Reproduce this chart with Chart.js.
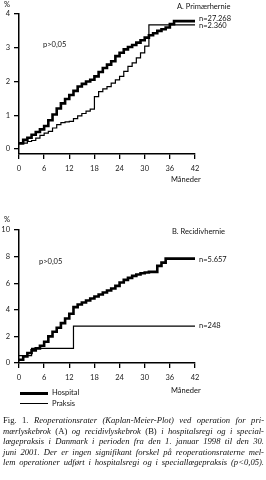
<!DOCTYPE html>
<html>
<head>
<meta charset="utf-8">
<script src="https://cdn.jsdelivr.net/npm/chart.js@4"></script>
<style>
  body { margin: 0; background: #fff; width: 266px; height: 480px; position: relative; overflow: hidden; font-family: Lato, "DejaVu Sans", sans-serif; color: #111; }
  .c { position: absolute; left: 0; }
  .t { position: absolute; font-size: 7.5px; white-space: nowrap; line-height: 1; }
  .leg { position: absolute; left: 20px; width: 28px; background: #000; }
  .cap { position: absolute; left: 3px; width: 261px; font-family: "Liberation Serif", serif; font-size: 8.6px; line-height: 10.5px; }
  .cap div { text-align: justify; text-align-last: justify; }
  .cap i { font-style: italic; }
</style>
</head>
<body>
<div class="c" style="top:0;width:266px;height:185px"><canvas id="a"></canvas></div>
<div class="c" style="top:215px;width:266px;height:195px"><canvas id="b"></canvas></div>

<div class="t" style="left:4px;top:1px">%</div>
<div class="t" style="left:177px;top:3px">A. Primærhernie</div>
<div class="t" style="left:43px;top:41px">p&gt;0,05</div>
<div class="t" style="left:199px;top:15px">n=27.268</div>
<div class="t" style="left:199px;top:22px">n=2.360</div>
<div class="t" style="left:171px;top:176px">Måneder</div>

<div class="t" style="left:4px;top:216px">%</div>
<div class="t" style="left:172px;top:228px">B. Recidivhernie</div>
<div class="t" style="left:39px;top:258px">p&gt;0,05</div>
<div class="t" style="left:199px;top:256px">n=5.657</div>
<div class="t" style="left:199px;top:322px">n=248</div>
<div class="t" style="left:171px;top:387px">Måneder</div>

<div class="leg" style="top:392px;height:2.5px"></div>
<div class="t" style="left:52px;top:389px">Hospital</div>
<div class="leg" style="top:403px;height:1.2px"></div>
<div class="t" style="left:52px;top:400px">Praksis</div>

<div class="cap" style="top:415px">
  <div>Fig. 1. <i>Reoperationsrater (Kaplan-Meier-Plot) ved operation for pri-</i></div>
  <div><i>mærlyskebrok</i> (A) <i>og recidivlyskebrok</i> (B) <i>i hospitalsregi og i special-</i></div>
  <div><i>lægepraksis i Danmark i perioden fra den 1. januar 1998 til den 30.</i></div>
  <div><i>juni 2001. Der er ingen signifikant forskel på reoperationsraterne mel-</i></div>
  <div><i>lem operationer udført i hospitalsregi og i speciallægepraksis (p&lt;0,05).</i></div>
</div>

<script>
// months 0..42
const months = [0,1,2,3,4,5,6,7,8,9,10,11,12,13,14,15,16,17,18,19,20,21,22,23,24,25,26,27,28,29,30,31,32,33,34,35,36,37,38,39,40,41,42];

// A. Primærhernie (%)
const hospitalA = [0.17,0.27,0.33,0.42,0.5,0.58,0.68,0.85,1.02,1.2,1.35,1.48,1.6,1.72,1.85,1.93,2.0,2.05,2.15,2.28,2.4,2.5,2.6,2.75,2.85,2.95,3.02,3.08,3.15,3.22,3.3,3.37,3.43,3.5,3.55,3.6,3.7,3.79,3.79,3.79,3.79,3.79,3.79];
const praksisA = [0.15,0.17,0.22,0.25,0.32,0.4,0.47,0.52,0.62,0.72,0.78,0.8,0.82,0.9,0.98,1.05,1.12,1.18,1.55,1.7,1.78,1.85,1.95,2.05,2.15,2.3,2.45,2.55,2.7,2.85,3.05,3.68,3.68,3.68,3.68,3.68,3.68,3.68,3.68,3.68,3.68,3.68,3.68];

// B. Recidivhernie (%)
const hospitalB = [0.25,0.5,0.75,0.95,1.1,1.3,1.6,2.0,2.35,2.65,3.0,3.35,3.7,4.2,4.4,4.55,4.7,4.85,5.0,5.15,5.3,5.45,5.6,5.8,6.05,6.25,6.4,6.55,6.65,6.75,6.8,6.85,6.85,7.3,7.55,7.85,7.85,7.85,7.85,7.85,7.85,7.85,7.85];
const praksisB = [0.55,0.55,0.55,1.1,1.1,1.1,1.1,1.1,1.1,1.1,1.1,1.1,1.1,2.78,2.78,2.78,2.78,2.78,2.78,2.78,2.78,2.78,2.78,2.78,2.78,2.78,2.78,2.78,2.78,2.78,2.78,2.78,2.78,2.78,2.78,2.78,2.78,2.78,2.78,2.78,2.78,2.78,2.78];

const xTicks = [0, 6, 12, 18, 24, 30, 36, 42];
const yTicksA = [0, 1, 2, 3, 4];
const yTicksB = [0, 2, 4, 6, 8, 10];

const tickFont = { family: "Lato", size: 7.5 };

function pts(vals) {
  return months.map((m, i) => ({ x: m, y: vals[i] }));
}

function makeChart(id, hosp, prak, yMin, yMax, yTicks, xH, pad) {
  return new Chart(document.getElementById(id), {
    type: "line",
    data: {
      datasets: [
        { label: "Hospital", data: pts(hosp), borderColor: "#000", borderWidth: 2.6, stepped: true, pointRadius: 0 },
        { label: "Praksis", data: pts(prak), borderColor: "#000", borderWidth: 1.2, stepped: true, pointRadius: 0 },
      ],
    },
    options: {
      responsive: true,
      maintainAspectRatio: false,
      animation: false,
      layout: { padding: pad },
      plugins: { legend: { display: false }, tooltip: { enabled: false } },
      scales: {
        x: {
          type: "linear", min: 0, max: 42,
          afterBuildTicks: s => { s.ticks = xTicks.map(v => ({ value: v })); },
          afterFit: s => { s.height = xH; },
          grid: { drawOnChartArea: false, tickLength: 5, color: "#000", lineWidth: 1.3 },
          border: { color: "#000", width: 1.5 },
          ticks: { color: "#222", font: tickFont, padding: 5, maxRotation: 0, autoSkip: false },
        },
        y: {
          min: yMin, max: yMax,
          afterBuildTicks: s => { s.ticks = yTicks.map(v => ({ value: v })); },
          afterFit: s => { s.width = 19; },
          grid: { drawOnChartArea: false, tickLength: 5, color: "#000", lineWidth: 1.3 },
          border: { color: "#000", width: 1.5 },
          ticks: { color: "#222", font: tickFont, padding: 4, autoSkip: false },
        },
      },
    },
  });
}

makeChart("a", hospitalA, praksisA, -0.15, 4, yTicksA, 31, { top: 14, right: 71, left: 0, bottom: 0 });
makeChart("b", hospitalB, praksisB, 0, 10, yTicksB, 47, { top: 15, right: 71, left: 0, bottom: 0 });
</script>
</body>
</html>
